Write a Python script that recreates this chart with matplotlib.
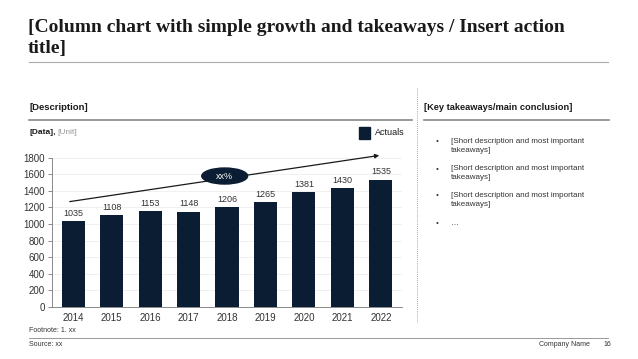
import matplotlib.pyplot as plt
from matplotlib.patches import Ellipse
from matplotlib.lines import Line2D

years = ["2014", "2015", "2016", "2017", "2018", "2019", "2020", "2021", "2022"]
actuals = [1035, 1108, 1153, 1148, 1206, 1265, 1381, 1430, 1535]
y_ticks = [0, 200, 400, 600, 800, 1000, 1200, 1400, 1600, 1800]
takeaways = [
    "[Short description and most important\ntakeaways]",
    "[Short description and most important\ntakeaways]",
    "[Short description and most important\ntakeaways]",
    "…",
]
growth_label = "xx%"

NAVY = "#0b1d33"
GREY_TEXT = "#333333"
W, H = 638, 359

plt.rcParams['font.family'] = ['Liberation Sans', 'DejaVu Sans']

fig = plt.figure(figsize=(W / 100, H / 100), dpi=100)


def fx(px):
    return px / W


def fy(py):
    return 1 - py / H


def hline(x0, x1, y, color="#999999", lw=1.0, ls="-"):
    fig.add_artist(Line2D([fx(x0), fx(x1)], [fy(y), fy(y)], color=color, lw=lw, ls=ls,
                          transform=fig.transFigure))


# title
for yy, line in zip([28, 48], ["[Column chart with simple growth and takeaways / Insert action", "title]"]):
    fig.text(fx(28), fy(yy), line, family="Liberation Serif", weight="bold", fontsize=14,
             color="#1a1a1a", va="center", ha="left")
hline(29, 608, 62, color="#aaaaaa", lw=0.8)

# section headers
fig.text(fx(29), fy(108), "[Description]", fontsize=6.8, weight="bold", color="#1a1a1a", va="center")
hline(29, 412, 120, color="#888888", lw=1.2)
fig.text(fx(424), fy(108), "[Key takeaways/main conclusion]", fontsize=6.7, weight="bold",
         color="#1a1a1a", va="center")
hline(424, 609, 120, color="#888888", lw=1.2)

# dotted separator
fig.add_artist(Line2D([fx(417), fx(417)], [fy(88), fy(322)], color="#888888", lw=0.6, ls=(0, (1, 1.5)),
                      transform=fig.transFigure))

# data / unit label
fig.text(fx(29), fy(132), "[Data],", fontsize=6, weight="bold", color="#1a1a1a", va="center")
fig.text(fx(57), fy(132), "[Unit]", fontsize=6, color="#999999", va="center")

# legend
fig.add_artist(plt.Rectangle((fx(359), fy(139)), 11 / W, 12 / H, color=NAVY, transform=fig.transFigure))
fig.text(fx(375), fy(133), "Actuals", fontsize=6.5, color="#1a1a1a", va="center")

# chart
ax = fig.add_axes([fx(52), fy(307), (402 - 52) / W, (307 - 149.3) / H])
x = list(range(len(years)))
ax.bar(x, actuals, width=0.6, color=NAVY, zorder=3)
for xi, v in zip(x, actuals):
    ax.text(xi, v + 40, str(v), ha="center", va="bottom", fontsize=6.5, color=GREY_TEXT)

ax.set_xlim(-0.55, 8.55)
ax.set_ylim(0, 1900)
ax.set_yticks(y_ticks)
ax.set_xticks(x)
ax.set_xticklabels(years)
ax.tick_params(axis="x", length=0, labelsize=7, colors=GREY_TEXT, pad=4)
ax.tick_params(axis="y", length=3, width=0.6, labelsize=7, colors=GREY_TEXT, pad=2, color="#777777")
for s in ["top", "right"]:
    ax.spines[s].set_visible(False)
ax.spines["left"].set_bounds(0, 1800)
ax.spines["left"].set_color("#777777")
ax.spines["left"].set_linewidth(0.6)
ax.spines["bottom"].set_color("#777777")
ax.spines["bottom"].set_linewidth(0.6)
ax.grid(axis="y", color="#eeeeee", lw=0.6, zorder=0)
ax.set_axisbelow(True)
ax.patch.set_alpha(0)

# growth arrow and bubble
ax.annotate("", xy=(8.03, 1831), xytext=(-0.16, 1265),
            arrowprops=dict(arrowstyle="-|>", color="#1a1a1a", lw=0.9, mutation_scale=6), zorder=4)
ax.add_patch(Ellipse((3.94, 1578), width=46 / 38.6, height=16 / 16.6 * 200, color=NAVY, zorder=5))
ax.text(3.94, 1578, growth_label, ha="center", va="center", fontsize=6.5, color="white", zorder=6)

# takeaways
ys = [142, 169, 196, 224]
for yy, txt in zip(ys, takeaways):
    fig.text(fx(437), fy(yy), "•", fontsize=5.8, color=GREY_TEXT, va="center", ha="center")
    fig.text(fx(451), fy(yy - 4), txt, fontsize=5.8, color=GREY_TEXT, va="top", ha="left",
             linespacing=1.45)

# footer
fig.text(fx(29), fy(331), "Footnote: 1. xx", fontsize=5, color=GREY_TEXT, va="center")
hline(29, 608, 338, color="#999999", lw=0.7)
fig.text(fx(29), fy(345), "Source: xx", fontsize=5, color=GREY_TEXT, va="center")
fig.text(fx(590), fy(345), "Company Name", fontsize=5, color=GREY_TEXT, va="center", ha="right")
fig.text(fx(611), fy(345), "16", fontsize=5, color=GREY_TEXT, va="center", ha="right")

fig.savefig("out.png", dpi=100)
